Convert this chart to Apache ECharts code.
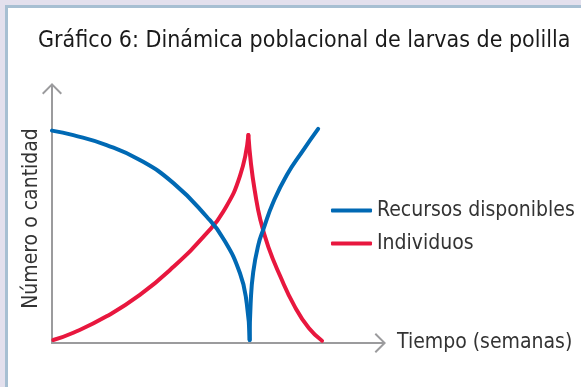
<!DOCTYPE html>
<html>
<head>
<meta charset="utf-8">
<script src="https://cdn.jsdelivr.net/npm/echarts@6/dist/echarts.min.js"></script>
<style>
	html, body { margin: 0; padding: 0; }
	#frame { position: absolute; left: 0; top: 0; width: 581px; height: 387px; background: #e3e0ed; }
	#panel { position: absolute; left: 5px; top: 5px; width: 573px; height: 379px; background: #fff; border-left: 3px solid #a7bfd2; border-top: 3px solid #a7bfd2; }
	#chart { position: absolute; left: 0; top: 0; width: 581px; height: 387px; }
</style>
</head>
<body>
<div id="frame"><div id="panel"></div></div>
<div id="chart"></div>
<script>
	/* datos (tiempo en semanas, escala 0-10) */
	const seriesNames = ['Recursos disponibles', 'Individuos'];

	const recursosBajaX = [0, 0.66, 1.69, 2.72, 3.76, 4.79, 5.3, 5.82, 6.03, 6.12];
	const recursosBajaY = [8.53, 8.35, 7.95, 7.35, 6.42, 5.07, 4.2, 2.8, 1.59, 0.12];
	const recursosSubeX = [6.12, 6.15, 6.23, 6.39, 6.54, 6.85, 7.27, 7.78, 8.24];
	const recursosSubeY = [0.12, 1.6, 2.85, 3.95, 4.55, 5.65, 6.75, 7.75, 8.6];

	const individuosSubeX = [0.04, 0.66, 1.69, 2.72, 3.76, 4.79, 5.3, 5.82, 6.08];
	const individuosSubeY = [0.12, 0.41, 1.07, 1.93, 3.06, 4.41, 5.27, 6.71, 8.35];
	const individuosBajaX = [6.08, 6.16, 6.28, 6.45, 6.7, 7.06, 7.5, 7.95, 8.36];
	const individuosBajaY = [8.35, 7.2, 6.1, 4.95, 3.85, 2.7, 1.5, 0.6, 0.09];

	const colors = ['#0069b4', '#e8173e'];
	const font = '"Liberation Sans Narrow", "DejaVu Sans Condensed", sans-serif';

	const zip = (xs, ys) => xs.map((x, i) => [x, ys[i]]);

	/* flecha abierta con vástago, para que la punta quede al final del eje */
	const arrow = 'path://M10,0 L20,10 L18.6,11.4 L10,2.8 L1.4,11.4 L0,10 Z M9,1 L11,1 L11,22 L9,22 Z';

	const axisLine = {
		show: true,
		symbol: ['none', arrow],
		symbolSize: [20, 22],
		lineStyle: { color: '#9b9b9d', width: 2 }
	};

	const line = (name, data, color) => ({
		type: 'line',
		name,
		data,
		smooth: 0.5,
		symbol: 'none',
		lineStyle: { color, width: 4, cap: 'round' },
		itemStyle: { color }
	});

	const chart = echarts.init(document.getElementById('chart'));
	chart.setOption({
		animation: false,
		title: {
			text: 'Gráfico 6: Dinámica poblacional de larvas de polilla',
			left: 38,
			top: 30,
			padding: 0,
			textStyle: { fontFamily: font, fontSize: 23, fontWeight: 'normal', color: '#1a1a1a' }
		},
		legend: {
			orient: 'vertical',
			left: 331,
			top: 199,
			padding: 0,
			itemWidth: 41,
			itemHeight: 4,
			itemGap: 10,
			icon: 'roundRect',
			data: seriesNames,
			textStyle: { fontFamily: font, fontSize: 21, lineHeight: 23, color: '#333' }
		},
		grid: { left: 52, right: 206, top: 94, bottom: 44, outerBoundsMode: 'none', containLabel: false },
		xAxis: {
			type: 'value',
			min: 0,
			max: 10,
			name: 'Tiempo (semanas)',
			nameLocation: 'end',
			nameGap: 22,
			nameTextStyle: { fontFamily: font, fontSize: 21, color: '#333' },
			axisLine,
			axisTick: { show: false },
			axisLabel: { show: false },
			splitLine: { show: false }
		},
		yAxis: {
			type: 'value',
			min: 0,
			max: 10,
			name: 'Número o cantidad',
			nameLocation: 'middle',
			nameRotate: 90,
			nameGap: 10,
			nameTextStyle: { fontFamily: font, fontSize: 21, color: '#333', verticalAlign: 'bottom' },
			axisLine,
			axisTick: { show: false },
			axisLabel: { show: false },
			splitLine: { show: false }
		},
		series: [
			line(seriesNames[1], zip(individuosSubeX, individuosSubeY), colors[1]),
			line(seriesNames[1], zip(individuosBajaX, individuosBajaY), colors[1]),
			line(seriesNames[0], zip(recursosBajaX, recursosBajaY), colors[0]),
			line(seriesNames[0], zip(recursosSubeX, recursosSubeY), colors[0])
		]
	});
</script>
</body>
</html>
